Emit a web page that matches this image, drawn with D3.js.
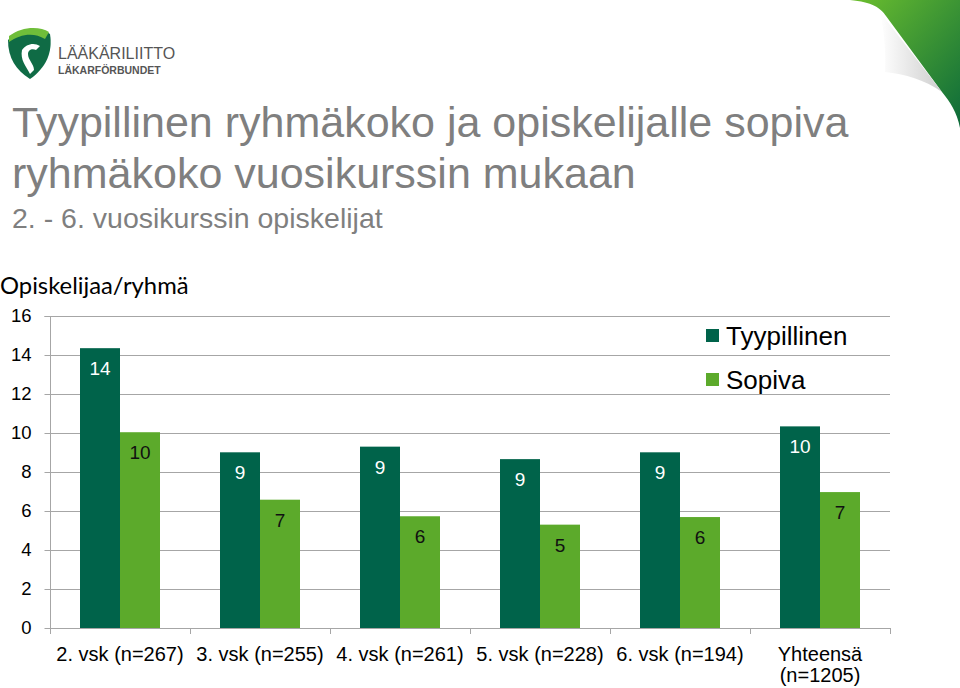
<!DOCTYPE html>
<html><head><meta charset="utf-8">
<script src="https://cdn.jsdelivr.net/npm/d3@7"></script>
<style>html,body{margin:0;padding:0;background:#fff;}svg{display:block;}</style>
</head><body>
<script>
const categories = [["2. vsk (n=267)"],["3. vsk (n=255)"],["4. vsk (n=261)"],["5. vsk (n=228)"],["6. vsk (n=194)"],["Yhteensä","(n=1205)"]];
const seriesNames = ["Tyypillinen","Sopiva"];
const tyypillinen = [14.35, 9.01, 9.30, 8.66, 9.01, 10.34];
const sopiva = [10.04, 6.58, 5.73, 5.30, 5.69, 6.97];
const yTicks = [0,2,4,6,8,10,12,14,16];
const colors = ["#00634A","#5CAA2B"];

(function(){
const W=960,H=688;
const svg=d3.select("body").append("svg").attr("width",W).attr("height",H);
const font="'Liberation Sans', Arial, sans-serif";

// page curl
const defs=svg.append("defs");
const g1=defs.append("linearGradient").attr("id","gcurl").attr("x1","0").attr("y1","0").attr("x2","1").attr("y2","1");
g1.append("stop").attr("offset","0").attr("stop-color","#6cbf2e");
g1.append("stop").attr("offset","1").attr("stop-color","#0c6a3a");
const g2=defs.append("linearGradient").attr("id","gshadow").attr("x1","0").attr("y1","0").attr("x2","1").attr("y2","0");
g2.append("stop").attr("offset","0").attr("stop-color","#ffffff");
g2.append("stop").attr("offset","1").attr("stop-color","#c8c8c8");
svg.append("path").attr("d","M850,0 L960,0 L960,128 C957,112 950,102 942,92 L886,16 C881,8 872,2 850,0 Z").attr("fill","url(#gcurl)");
svg.append("path").attr("d","M880,12 L942,92 C925,80 905,74 885,72 C886,50 884,30 880,12 Z").attr("fill","url(#gshadow)").attr("opacity",0.9);

// logo
const logo=svg.append("g");
logo.append("path").attr("d","M8,40 C20,28 40,26 50,34 C53,52 46,68 30,79 C16,70 8,58 8,40 Z").attr("fill","#0f6b45");
logo.append("path").attr("d","M9,36 C22,26 40,26 49,32 L45,39 C34,32 20,34 9,42 Z").attr("fill","#6fbe3a");
logo.append("path").attr("d","M22,50 C26,44 34,42 40,46 L36,50 C32,48 28,50 28,54 C28,60 34,64 34,70 L30,74 C26,66 20,60 22,50 Z").attr("fill","#ffffff");
logo.append("text").attr("x",58).attr("y",59).attr("font-family",font).attr("font-size",16).attr("fill","#555").text("LÄÄKÄRILIITTO");
logo.append("text").attr("x",58).attr("y",74).attr("font-family",font).attr("font-size",10.5).attr("font-weight","bold").attr("fill","#555").text("LÄKARFÖRBUNDET");

// titles
svg.append("text").attr("x",12).attr("y",137).attr("font-family",font).attr("font-size",43).attr("fill","#7f7f7f").text("Tyypillinen ryhmäkoko ja opiskelijalle sopiva");
svg.append("text").attr("x",12).attr("y",188).attr("font-family",font).attr("font-size",43).attr("fill","#7f7f7f").text("ryhmäkoko vuosikurssin mukaan");
svg.append("text").attr("x",12).attr("y",228).attr("font-family",font).attr("font-size",28.5).attr("fill","#7f7f7f").text("2. - 6. vuosikurssin opiskelijat");

svg.append("text").attr("x",0).attr("y",294).attr("font-family","Lato, 'Open Sans', sans-serif").attr("font-size",23.8).attr("fill","#000").text("Opiskelijaa/ryhmä");

// chart
const pl=50,pr=890,pt=316,pb=628;
const y=d3.scaleLinear().domain([0,16]).range([pb,pt]);
const x0=d3.scaleBand().domain(d3.range(categories.length)).range([pl,pr]).paddingInner(60/140).paddingOuter(30/140);
const x1=d3.scaleBand().domain(seriesNames).range([0,x0.bandwidth()]);

// gridlines
svg.append("g").selectAll("line").data(yTicks.filter(d=>d>0)).join("line")
  .attr("x1",pl).attr("x2",pr).attr("y1",d=>Math.round(y(d))+0.5).attr("y2",d=>Math.round(y(d))+0.5)
  .attr("stroke","#a6a6a6").attr("stroke-width",1);

// y axis
const ya=svg.append("g").attr("transform",`translate(${pl+0.5},0)`).call(d3.axisLeft(y).tickValues(yTicks).tickSize(6).tickPadding(13));
ya.select(".domain").attr("stroke","#a6a6a6").attr("d",`M-6,${y(16)+0.5}H0V${pb+0.5}`);
ya.selectAll(".tick line").attr("stroke","#a6a6a6");
ya.selectAll(".tick text").attr("font-family",font).attr("font-size",18.5).attr("fill","#000");

// bars
const data=categories.map((c,i)=>({i,vals:[tyypillinen[i],sopiva[i]]}));
const grp=svg.append("g").selectAll("g").data(data).join("g").attr("transform",d=>`translate(${x0(d.i)},0)`);
grp.selectAll("rect").data(d=>d.vals.map((v,k)=>({v,k}))).join("rect")
  .attr("x",d=>x1(seriesNames[d.k])).attr("width",x1.bandwidth())
  .attr("y",d=>y(d.v)).attr("height",d=>pb-y(d.v)).attr("fill",d=>colors[d.k]);
grp.selectAll("text").data(d=>d.vals.map((v,k)=>({v,k}))).join("text")
  .attr("x",d=>x1(seriesNames[d.k])+x1.bandwidth()/2).attr("y",d=>y(d.v)+27)
  .attr("text-anchor","middle").attr("font-family",font).attr("font-size",19)
  .attr("fill",d=>d.k===0?"#fff":"#111").text(d=>Math.round(d.v));

// x axis
svg.append("line").attr("x1",pl).attr("x2",pr+1).attr("y1",pb+0.5).attr("y2",pb+0.5).attr("stroke","#a6a6a6");
const step=x0.step();
svg.append("g").selectAll("line").data(d3.range(categories.length+1)).join("line")
  .attr("x1",d=>pl+d*step+0.5).attr("x2",d=>pl+d*step+0.5).attr("y1",pb).attr("y2",pb+6).attr("stroke","#a6a6a6");
const xl=svg.append("g").selectAll("text").data(categories.map((c,i)=>({c,i}))).join("text")
  .attr("x",d=>x0(d.i)+x0.bandwidth()/2).attr("y",661).attr("text-anchor","middle")
  .attr("font-family",font).attr("font-size",20).attr("fill","#000");
xl.selectAll("tspan").data(d=>d.c).join("tspan").attr("x",function(){return this.parentNode.getAttribute("x");}).attr("dy",(d,j)=>j===0?0:21).text(d=>d);

// legend
const lg=svg.append("g").selectAll("g").data(seriesNames).join("g").attr("transform",(d,i)=>`translate(706,${329+i*44})`);
lg.append("rect").attr("width",13).attr("height",13).attr("fill",(d,i)=>colors[i]);
lg.append("text").attr("x",20).attr("y",16).attr("font-family",font).attr("font-size",26).attr("fill","#000").text(d=>d);
})();
</script>
</body></html>
